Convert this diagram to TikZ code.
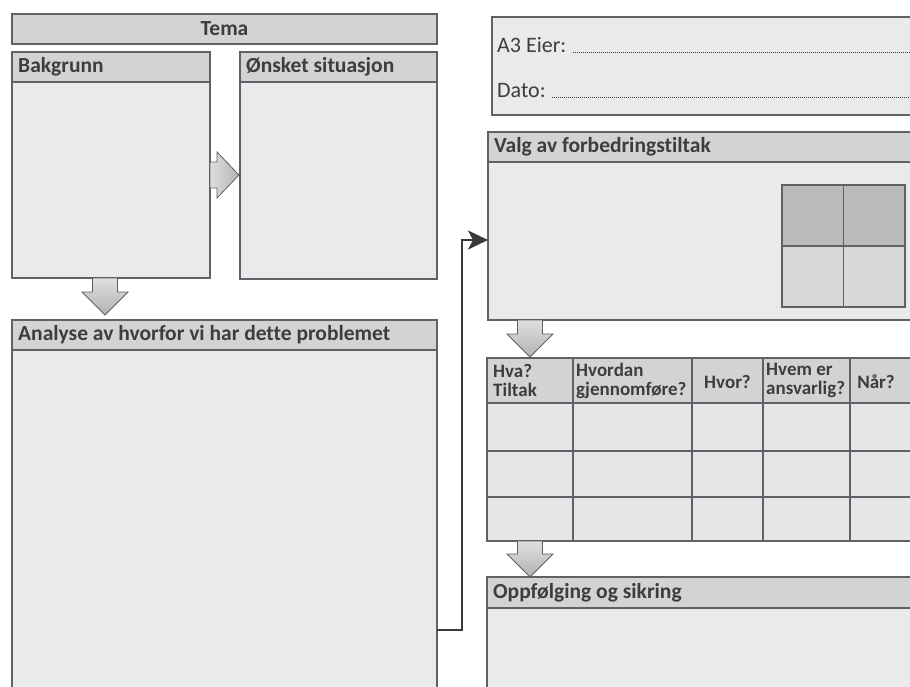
\documentclass[tikz,border=0pt]{standalone}
\usepackage{fontspec}
\setmainfont[Ligatures=NoCommon]{Carlito}
\usetikzlibrary{arrows.meta,calc}
\definecolor{ink}{HTML}{3D3D40}
\definecolor{edge}{HTML}{616165}
\definecolor{headfill}{HTML}{D3D3D5}
\definecolor{bodyfill}{HTML}{EAEAEC}
\definecolor{cellfill}{HTML}{E6E6E8}
\definecolor{quaddark}{HTML}{BBBBBE}
\definecolor{quadlight}{HTML}{D8D8DA}
\definecolor{wire}{HTML}{3A3A3D}

\tikzset{
  panel/.style={draw=edge, line width=1.3pt, fill=bodyfill, anchor=north west,
    inner sep=0pt, outer sep=0pt},
  headband/.style={panel, fill=headfill, minimum height=30pt},
  title/.style={anchor=west, inner sep=0pt, text=ink,
    font=\bfseries\fontsize{21.5}{24}\selectfont},
  colhead/.style={inner sep=0pt, text=ink, align=left,
    font=\bfseries\fontsize{19}{19}\selectfont},
  field/.style={anchor=base west, inner sep=0pt, text=ink,
    font=\fontsize{22}{24}\selectfont},
  dotline/.style={line width=0.8pt, dash pattern=on 0.7pt off 1.3pt, draw=ink},
  blockarrow/.style={draw=gray!75!black, line width=0.8pt},
  wire/.style={draw=wire, line width=2.6pt,
    -{Stealth[length=20pt,width=19pt,inset=5pt]}},
  grid/.style={draw=edge, line width=1.1pt},
}

% block arrow pointing down: #1 start on the upper box, #2 tip
\newcommand\blockdown[2]{%
  \draw[blockarrow, top color=gray!25, bottom color=gray!60]
    let \p1=(#1), \p2=(#2) in
    (\x2-12.5pt,\y1) -- (\x2-12.5pt,\y2+23pt) -- (\x2-23pt,\y2+23pt) -- (\p2)
    -- (\x2+23pt,\y2+23pt) -- (\x2+12.5pt,\y2+23pt) -- (\x2+12.5pt,\y1) -- cycle;}
% block arrow pointing right: #1 start on the left box, #2 tip
\newcommand\blockright[2]{%
  \draw[blockarrow, left color=gray!25, right color=gray!60]
    let \p1=(#1), \p2=(#2) in
    (\x1,\y2+13pt) -- (\x2-22pt,\y2+13pt) -- (\x2-22pt,\y2+23pt) -- (\p2)
    -- (\x2-22pt,\y2-23pt) -- (\x2-22pt,\y2-13pt) -- (\x1,\y2-13pt) -- cycle;}

\begin{document}
\begin{tikzpicture}[x=1pt,y=-1pt]
\useasboundingbox (0,0) rectangle (910,686);
\clip (0,0) rectangle (910,686);
\fill[white] (0,0) rectangle (910,686);

% ---------- left column ----------
\node[headband, minimum width=425pt] (tema) at (12,14) {};
\node[title, anchor=center] at (tema.center) {Tema};

\node[panel, minimum width=198pt, minimum height=226pt] (bak) at (12,52) {};
\node[headband, minimum width=198pt] (bakhead) at (bak.north west) {};
\node[title] at ($(bakhead.west)+(6,0)$) {Bakgrunn};

\node[panel, minimum width=197pt, minimum height=227pt] (onsket) at (240,52) {};
\node[headband, minimum width=197pt] (onskethead) at (onsket.north west) {};
\node[title] at ($(onskethead.west)+(6,0)$) {Ønsket situasjon};

\node[panel, minimum width=425pt, minimum height=380pt] (analyse) at (12,320) {};
\node[headband, minimum width=425pt] (analysehead) at (analyse.north west) {};
\node[title] at ($(analysehead.west)+(6,0)$) {Analyse av hvorfor vi har dette problemet};

% ---------- right column ----------
\node[panel, minimum width=430pt, minimum height=98pt] (eierbox) at (492,17) {};
\node[field] (eier) at (497,52) {A3 Eier:};
\draw[dotline] ($(eier.base east)+(6,0)$) -- (eier.base -| eierbox.east);
\node[field] (dato) at (497,97) {Dato:};
\draw[dotline] ($(dato.base east)+(6,0)$) -- (dato.base -| eierbox.east);

\node[panel, minimum width=430pt, minimum height=188pt] (valg) at (488,132) {};
\node[headband, minimum width=430pt] (valghead) at (valg.north west) {};
\node[title] at ($(valghead.west)+(6,0)$) {Valg av forbedringstiltak};
% four-field matrix
\node[panel, fill=none, minimum width=123pt, minimum height=122pt] (quad) at (782,185) {};
\fill[quaddark] (quad.north west) rectangle (quad.east);
\fill[quadlight] (quad.west) rectangle (quad.south east);
\draw[grid] (quad.north west) rectangle (quad.south east);
\draw[grid] (quad.north) -- (quad.south);
\draw[grid] (quad.west) -- (quad.east);

% action table
\node[panel, fill=cellfill, minimum width=430pt, minimum height=183pt] (tab) at (487,358) {};
\fill[headfill] (tab.north west) rectangle ($(tab.north east)+(0,45)$);
\foreach \y in {403,451,497} \draw[grid] (tab.west |- 0,\y) -- (tab.east |- 0,\y);
\foreach \x in {573,692,763,850} \draw[grid] (\x,358) -- (\x,541);
\draw[grid] (tab.north west) rectangle (tab.south east);
\node[colhead, anchor=west] at (493,380.5) {Hva?\\Tiltak};
\node[colhead, anchor=west] at (576,380.5) {Hvordan\\gjennomføre?};
\node[colhead] at (727.5,382) {Hvor?};
\node[colhead, anchor=west] at (766,380.5) {Hvem er\\ansvarlig?};
\node[colhead] at (876,382) {Når?};

\node[panel, minimum width=430pt, minimum height=130pt] (oppf) at (487,577) {};
\node[headband, minimum width=430pt, minimum height=31pt] (oppfhead) at (oppf.north west) {};
\node[title] at ($(oppfhead.west)+(6,0)$) {Oppfølging og sikring};

% ---------- arrows ----------
\coordinate (a1s) at ($(bak.south)+(-6,0)$);
\coordinate (a1t) at ($(a1s |- analyse.north)+(0,-5)$);
\blockdown{a1s}{a1t}
\coordinate (a0s) at ($(bak.east)+(0,10)$);
\coordinate (a0t) at ($(a0s -| onsket.west)+(-1,0)$);
\blockright{a0s}{a0t}
\coordinate (a2s) at ($(valg.south west)+(42,0)$);
\coordinate (a2t) at ($(a2s |- tab.north)+(0,-1)$);
\blockdown{a2s}{a2t}
\coordinate (a3s) at ($(tab.south west)+(43,0)$);
\coordinate (a3t) at (a3s |- oppf.north);
\blockdown{a3s}{a3t}

% feedback line from the analysis to the choice of measures
\coordinate (riser) at (462,630);
\coordinate (entry) at ($(valg.north west)+(0,108)$);
\draw[wire] (analyse.east |- riser) -- (riser) |- (entry);
\end{tikzpicture}
\end{document}
